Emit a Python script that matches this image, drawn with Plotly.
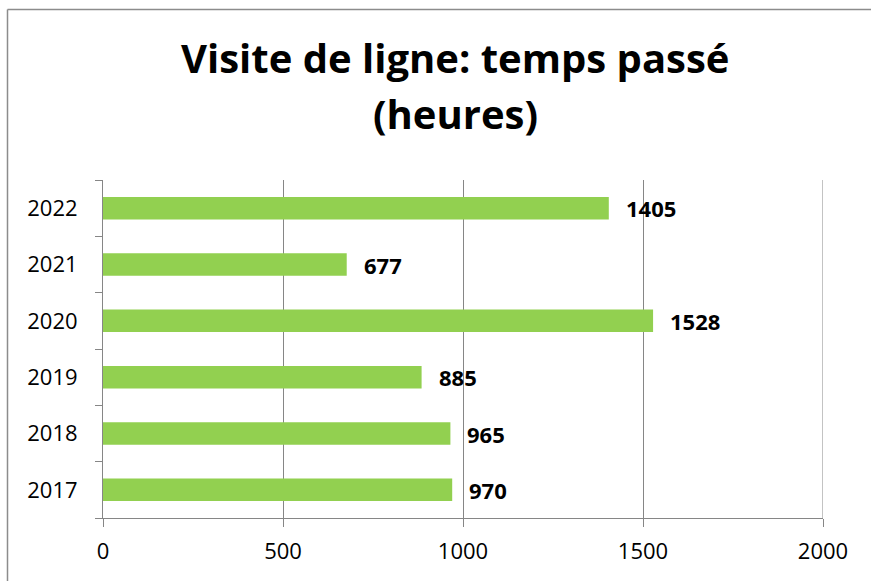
import plotly.graph_objects as go

years = ["2017", "2018", "2019", "2020", "2021", "2022"]
hours = [970, 965, 885, 1528, 677, 1405]
x_ticks = [0, 500, 1000, 1500, 2000]
title_line1 = "Visite de ligne: temps passé"
title_line2 = "(heures)"

W, H = 871, 581
L, R, T, B = 103, 48, 180, 63
pw, ph = W - L - R, H - T - B

def px_x(p):
    return (p - L) / pw

def px_y(p):
    return (H - B - p) / ph

FONT = "Open Sans"
GRAY = "#868686"

ypos = list(range(len(years)))
bounds = [i - 0.5 for i in range(len(years) + 1)]

fig = go.Figure(go.Bar(
    x=hours, y=ypos, orientation="h",
    marker=dict(color="#92D050", line=dict(width=0)),
    width=0.4,
    hovertext=years, hoverinfo="x+text",
))

annotations = []
for yv, hv in zip(ypos, hours):
    annotations.append(dict(
        x=hv, y=yv, xref="x", yref="y", text="<b>%d</b>" % hv,
        showarrow=False, xanchor="left", yanchor="middle", xshift=15, yshift=0,
        font=dict(family=FONT, size=22, color="#000000"),
    ))
annotations.append(dict(
    x=px_x(455), y=px_y(57), xref="paper", yref="paper", text="<b>%s</b>" % title_line1,
    showarrow=False, xanchor="center", yanchor="middle",
    font=dict(family=FONT, size=40, color="#000000"),
))
annotations.append(dict(
    x=px_x(455), y=px_y(113), xref="paper", yref="paper", text="<b>%s</b>" % title_line2,
    showarrow=False, xanchor="center", yanchor="middle",
    font=dict(family=FONT, size=40, color="#000000"),
))

shapes = [
    dict(type="line", xref="paper", yref="paper", x0=px_x(7.5), x1=px_x(880), y0=px_y(9.5), y1=px_y(9.5),
         line=dict(color="#8c8c8c", width=1.5)),
    dict(type="line", xref="paper", yref="paper", x0=px_x(7.5), x1=px_x(7.5), y0=px_y(9.5), y1=px_y(600),
         line=dict(color="#8c8c8c", width=1.5)),
    # gridline at the right edge (plotly omits grid lines lying on the plot border)
    dict(type="line", xref="x", yref="paper", x0=x_ticks[-1], x1=x_ticks[-1], y0=0, y1=1,
         line=dict(color=GRAY, width=1)),
]

fig.update_layout(
    width=W, height=H,
    margin=dict(l=L, r=R, t=T, b=B, pad=0),
    paper_bgcolor="white", plot_bgcolor="white",
    showlegend=False,
    annotations=annotations,
    shapes=shapes,
    font=dict(family=FONT, color="#000000"),
    xaxis=dict(
        range=[0, 2000], tickvals=x_ticks, ticktext=[str(v) for v in x_ticks],
        showgrid=True, gridcolor=GRAY, gridwidth=1,
        showline=True, linecolor=GRAY, linewidth=1,
        ticks="outside", ticklen=8, tickcolor=GRAY, tickwidth=1,
        tickfont=dict(family=FONT, size=22, color="#000000"),
        zeroline=False, fixedrange=True, ticklabelstandoff=6,
    ),
    yaxis=dict(
        range=[-0.5, len(years) - 0.5],
        tickvals=ypos, ticktext=years,
        showgrid=False, showline=True, linecolor=GRAY, linewidth=1,
        ticks="", zeroline=False,
        tickfont=dict(family=FONT, size=22, color="#000000"),
        ticklabelstandoff=20, fixedrange=True,
        minor=dict(tickvals=bounds, ticks="outside", ticklen=7, tickcolor=GRAY, tickwidth=1, showgrid=False),
    ),
)

fig.write_html("out.html", config={"displayModeBar": False},
               post_script="document.body.style.margin='0';document.body.style.overflow='hidden';")
